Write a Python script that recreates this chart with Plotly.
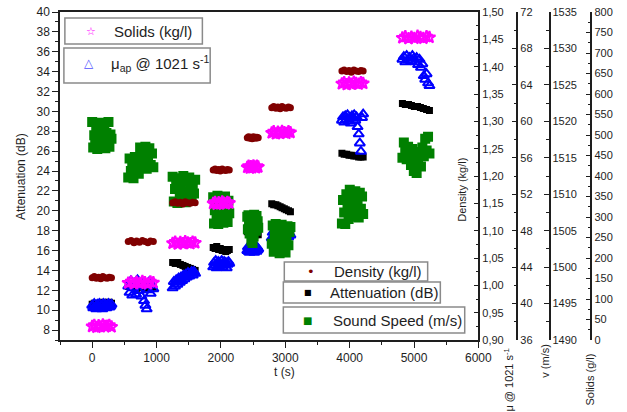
import plotly.graph_objects as go

# Eight measurement runs; slow channels sampled at ten instants per run (s)
time_s = [
    0, 33, 66, 100, 133, 166, 200, 233, 266, 300,
    560, 605, 650, 690, 735, 780, 820, 865, 905, 950,
    1250, 1290, 1330, 1370, 1410, 1445, 1485, 1525, 1560, 1600,
    1880, 1910, 1935, 1965, 1990, 2020, 2045, 2075, 2100, 2130,
    2410, 2430, 2450, 2465, 2485, 2505, 2525, 2545, 2560, 2580,
    2790, 2820, 2855, 2885, 2920, 2950, 2985, 3015, 3050, 3080,
    3880, 3915, 3955, 3990, 4025, 4065, 4100, 4140, 4175, 4210,
    4820, 4865, 4915, 4960, 5005, 5055, 5100, 5145, 5195, 5240,
]

# Fast channels (sound speed, viscosity) sampled at twenty instants per run (s)
fast_time_s = [
    0, 16, 32, 47, 63, 79, 95, 111, 126, 142, 158, 174, 189, 205, 221, 237, 253, 268, 284, 300,
    560, 581, 601, 622, 642, 663, 683, 704, 724, 745, 765, 786, 806, 827, 847, 868, 888, 909, 929, 950,
    1250, 1268, 1287, 1305, 1324, 1342, 1361, 1379, 1397, 1416, 1434, 1453, 1471, 1489, 1508, 1526, 1545, 1563, 1582, 1600,
    1880, 1893, 1906, 1919, 1933, 1946, 1959, 1972, 1985, 1998, 2012, 2025, 2038, 2051, 2064, 2077, 2091, 2104, 2117, 2130,
    2410, 2419, 2428, 2437, 2446, 2455, 2464, 2473, 2482, 2491, 2499, 2508, 2517, 2526, 2535, 2544, 2553, 2562, 2571, 2580,
    2790, 2805, 2821, 2836, 2851, 2866, 2882, 2897, 2912, 2927, 2943, 2958, 2973, 2988, 3004, 3019, 3034, 3049, 3065, 3080,
    3880, 3897, 3915, 3932, 3949, 3967, 3984, 4002, 4019, 4036, 4054, 4071, 4088, 4106, 4123, 4141, 4158, 4175, 4193, 4210,
    4820, 4842, 4864, 4886, 4908, 4931, 4953, 4975, 4997, 5019, 5041, 5063, 5085, 5108, 5130, 5152, 5174, 5196, 5218, 5240,
]

attenuation_db = [
    10.6, 10.7, 10.5, 10.6, 10.7, 10.8, 10.6, 10.7, 10.8, 10.7,
    12.4, 12.3, 12.4, 12.2, 12.3, 12.4, 12.2, 12.3, 12.2, 12.3,
    14.8, 14.7, 14.8, 14.6, 14.5, 14.4, 14.3, 14.2, 14.1, 14.0,
    16.3, 16.2, 16.4, 16.1, 16.2, 16.0, 16.1, 15.9, 16.0, 16.1,
    17.9, 17.8, 17.9, 17.7, 17.8, 17.8, 17.7, 17.6, 17.7, 17.6,
    20.7, 20.6, 20.6, 20.5, 20.4, 20.3, 20.2, 20.1, 20.0, 19.9,
    25.8, 25.7, 25.7, 25.6, 25.6, 25.5, 25.5, 25.4, 25.4, 25.4,
    30.8, 30.7, 30.7, 30.6, 30.5, 30.5, 30.4, 30.3, 30.2, 30.1,
]

density_kgl = [
    1.014, 1.016, 1.013, 1.015, 1.012, 1.016, 1.014, 1.013, 1.015, 1.014,
    1.080, 1.082, 1.078, 1.081, 1.079, 1.082, 1.080, 1.078, 1.081, 1.080,
    1.151, 1.153, 1.150, 1.152, 1.149, 1.153, 1.151, 1.150, 1.152, 1.151,
    1.211, 1.213, 1.210, 1.212, 1.209, 1.213, 1.211, 1.210, 1.212, 1.211,
    1.270, 1.272, 1.269, 1.271, 1.268, 1.272, 1.270, 1.269, 1.271, 1.270,
    1.325, 1.327, 1.324, 1.326, 1.323, 1.327, 1.325, 1.324, 1.326, 1.325,
    1.392, 1.394, 1.391, 1.393, 1.390, 1.394, 1.392, 1.391, 1.393, 1.392,
    None, None, None, None, None, None, None, None, None, None,
]

solids_gl = [
    33, 36, 31, 35, 32, 37, 33, 34, 36, 32,
    139, 142, 137, 141, 138, 143, 140, 137, 142, 140,
    236, 239, 234, 238, 235, 240, 237, 235, 239, 237,
    333, 336, 331, 335, 332, 337, 334, 332, 336, 334,
    421, 424, 419, 423, 420, 425, 422, 420, 424, 422,
    505, 508, 503, 507, 504, 509, 506, 504, 508, 506,
    625, 628, 623, 627, 624, 629, 626, 624, 628, 626,
    737, 740, 735, 739, 736, 741, 738, 736, 740, 738,
]

mu_ap = [
    39.8, 39.5, 40.0, 39.6, 39.4, 39.9, 39.7, 40.0, 39.5, 39.8, 39.4, 40.0, 39.6, 39.9, 39.5, 39.8, 40.0, 39.6, 39.7, 39.9,
    41.9, 41.2, 42.5, 40.9, 41.7, 42.2, 41.0, 42.6, 41.4, 42.1, 40.8, 42.3, 40.3, 39.8, 39.4, 41.5, 42.4, 41.1, 42.0, 41.6,
    41.7, 42.4, 41.9, 42.6, 42.1, 42.8, 42.3, 42.9, 42.5, 43.1, 42.7, 43.2, 42.9, 43.4, 43.0, 43.3, 43.5, 43.1, 43.5, 43.3,
    44.0, 44.5, 44.2, 44.7, 43.9, 44.4, 44.6, 44.1, 44.5, 44.3, 44.7, 44.0, 44.4, 44.6, 44.2, 44.5, 43.9, 44.3, 44.6, 44.4,
    45.8, 46.2, 45.7, 46.0, 45.6, 46.3, 45.9, 46.1, 45.7, 46.2, 45.8, 46.0, 45.6, 46.3, 45.9, 46.1, 45.7, 46.2, 45.9, 46.0,
    47.2, 47.8, 47.4, 48.0, 47.1, 47.6, 47.9, 47.3, 47.7, 47.0, 47.5, 47.9, 47.2, 47.8, 47.4, 47.6, 48.0, 47.3, 47.7, 47.5,
    60.1, 60.5, 59.9, 60.6, 60.2, 60.7, 60.0, 60.4, 59.8, 60.6, 60.3, 60.7, 60.1, 60.5, 59.4, 58.6, 57.6, 56.7, 60.4, 60.8,
    66.8, 67.1, 66.5, 67.2, 66.7, 67.0, 66.6, 67.2, 66.9, 66.5, 67.0, 66.2, 66.8, 65.9, 66.3, 65.0, 64.6, 65.2, 64.2, 63.9,
]

sound_speed_ms = [
    1519.9, 1516.4, 1518.1, 1517.2, 1519.3, 1516.2, 1518.6, 1517.5, 1519.8, 1516.6,
    1518.0, 1517.0, 1519.6, 1516.3, 1518.4, 1517.3, 1519.9, 1516.5, 1518.2, 1517.6,
    1512.3, 1514.9, 1513.2, 1514.2, 1512.2, 1515.1, 1513.5, 1514.5, 1512.8, 1516.4,
    1513.6, 1515.5, 1514.2, 1516.5, 1513.5, 1515.0, 1516.3, 1514.0, 1515.6, 1513.7,
    1512.4, 1509.0, 1510.7, 1511.6, 1508.8, 1512.2, 1509.9, 1511.0, 1509.2, 1512.5,
    1510.4, 1508.9, 1511.8, 1509.6, 1512.3, 1510.9, 1509.1, 1511.4, 1510.1, 1512.0,
    1509.6, 1506.0, 1507.8, 1508.7, 1506.9, 1509.8, 1505.9, 1507.3, 1508.9, 1506.4,
    1509.4, 1507.6, 1506.1, 1508.4, 1509.7, 1506.8, 1508.0, 1506.2, 1509.1, 1507.4,
    1506.9, 1505.2, 1507.1, 1506.0, 1504.6, 1506.8, 1505.5, 1503.6, 1504.8, 1503.3,
    1506.4, 1504.2, 1507.2, 1505.8, 1506.6, 1505.0, 1507.0, 1505.9, 1506.3, 1505.4,
    1503.2, 1505.7, 1502.1, 1504.4, 1505.9, 1502.8, 1503.9, 1505.1, 1501.9, 1504.6,
    1505.8, 1502.5, 1503.5, 1505.3, 1502.0, 1504.2, 1505.6, 1503.0, 1504.8, 1505.5,
    1506.0, 1509.2, 1507.5, 1505.9, 1510.0, 1508.3, 1506.6, 1510.6, 1507.2, 1509.5,
    1506.9, 1508.6, 1510.4, 1507.6, 1509.0, 1506.8, 1510.2, 1508.0, 1509.7, 1507.3,
    1515.0, 1517.1, 1515.8, 1514.8, 1516.5, 1515.3, 1514.0, 1516.2, 1513.2, 1515.8,
    1512.9, 1514.6, 1515.5, 1513.8, 1516.4, 1515.2, 1517.6, 1516.0, 1517.9, 1515.6,
]

# ---- page geometry (pixels) ----
W, H = 627, 412
ML, MR, MT, MB = 60, 2, 12, 72
PW, PH = W - ML - MR, H - MT - MB


def px(x):
    return (x - ML) / PW


def py(y):
    return (MT + PH - y) / PH


FONT = "Arial, 'Liberation Sans', Helvetica, sans-serif"
AX = "#1e1e1e"
C_ATT, C_MU, C_V, C_RHO, C_SOL = "#000000", "#0000ff", "#008000", "#800000", "#ff00ff"

fig = go.Figure()
# drawn bottom to top: attenuation, viscosity, sound speed, density, solids
fig.add_trace(go.Scatter(x=time_s, y=attenuation_db, mode="markers", name="Attenuation (dB)",
                         marker=dict(symbol="square", size=7, color=C_ATT), yaxis="y"))
fig.add_trace(go.Scatter(x=fast_time_s, y=mu_ap, mode="markers", name="μap @ 1021 s-1",
                         marker=dict(symbol="triangle-up-open", size=9, color=C_MU,
                                     line=dict(width=2, color=C_MU)), yaxis="y2"))
fig.add_trace(go.Scatter(x=fast_time_s, y=sound_speed_ms, mode="markers", name="Sound Speed (m/s)",
                         marker=dict(symbol="square", size=10, color=C_V), yaxis="y3"))
fig.add_trace(go.Scatter(x=time_s, y=density_kgl, mode="markers", name="Density (kg/l)",
                         marker=dict(symbol="circle", size=7, color=C_RHO), yaxis="y4"))
fig.add_trace(go.Scatter(x=time_s, y=solids_gl, mode="markers", name="Solids (kg/l)",
                         marker=dict(symbol="star-open", size=9, color=C_SOL,
                                     line=dict(width=2, color=C_SOL)), yaxis="y5"))


def right_axis(rng, dtick, minor, **kw):
    d = dict(range=rng, tickmode="linear", tick0=rng[0], dtick=dtick,
             showgrid=False, zeroline=False, showline=True, linecolor=AX, linewidth=1.5,
             ticks="inside", ticklen=5, tickwidth=1.2, tickcolor=AX,
             minor=dict(tick0=rng[0], dtick=minor, ticks="inside", ticklen=3,
                        tickwidth=1.2, tickcolor=AX, showgrid=False),
             tickfont=dict(size=11, color=AX, family=FONT),
             overlaying="y", side="right")
    d.update(kw)
    return d


fig.update_layout(
    width=W, height=H,
    margin=dict(l=ML, r=MR, t=MT, b=MB, pad=0),
    paper_bgcolor="white", plot_bgcolor="white",
    separators=",.",
    showlegend=False,
    font=dict(family=FONT, color=AX),
    xaxis=dict(domain=[0, px(489)], range=[-500, 6000], tickmode="linear", tick0=0, dtick=1000,
               showgrid=False, zeroline=False, showline=True, mirror=True,
               linecolor=AX, linewidth=1.5, ticks="outside", ticklen=6, tickwidth=1.2, tickcolor=AX,
               minor=dict(tick0=0, dtick=500, ticks="outside", ticklen=3, tickwidth=1.2,
                          tickcolor=AX, showgrid=False),
               tickfont=dict(size=12, color=AX, family=FONT), anchor="y"),
    yaxis=dict(range=[7, 40], tickmode="linear", tick0=8, dtick=2,
               showgrid=False, zeroline=False, showline=True, linecolor=AX, linewidth=1.5,
               ticks="outside", ticklen=6, tickwidth=1.2, tickcolor=AX,
               minor=dict(tick0=7, dtick=1, ticks="outside", ticklen=3, tickwidth=1.2,
                          tickcolor=AX, showgrid=False),
               tickfont=dict(size=12, color=AX, family=FONT), anchor="x"),
    yaxis2=right_axis([36, 72], 4, 2, anchor="free", position=px(529)),
    yaxis3=right_axis([1490, 1535], 5, 2.5, anchor="free", position=px(562)),
    yaxis4=right_axis([0.90, 1.50], 0.05, 0.025, anchor="x", tickformat=".2f"),
    yaxis5=right_axis([0, 800], 50, 25, anchor="free", position=px(605)),
)

# ---- legend boxes ----
BOX = "#8a8a8a"
boxes = [(65, 18, 206, 44), (64, 48, 214, 83), (290, 262, 437, 281),
         (289, 282, 450, 303), (289, 307, 475, 333)]
for x0, y0, x1, y1 in boxes:
    fig.add_shape(type="rect", xref="paper", yref="paper",
                  x0=px(x0), x1=px(x1), y0=py(y1), y1=py(y0),
                  line=dict(color=BOX, width=1.5), fillcolor="white", layer="above")

legend_items = [
    ("☆", C_SOL, 11, 92, 31, "Solids (kg/l)", 113),
    ("△", "#5050ff", 12, 90, 63, "μ<sub>ap</sub> @ 1021 s<sup>-1</sup>", 110),
    ("•", C_RHO, 13, 317, 271, "Density (kg/l)", 339),
    ("■", C_ATT, 8, 314, 292.5, "Attenuation (dB)", 335),
    ("■", C_V, 10, 314, 320, "Sound Speed (m/s)", 338),
]
for sym, col, sz, sx, sy, label, tx in legend_items:
    fig.add_annotation(x=px(sx), y=py(sy), xref="paper", yref="paper", text=sym,
                       showarrow=False, xanchor="center", yanchor="middle",
                       font=dict(family="DejaVu Sans", size=sz, color=col))
    fig.add_annotation(x=px(tx), y=py(sy), xref="paper", yref="paper", text=label,
                       showarrow=False, xanchor="left", yanchor="middle",
                       font=dict(family=FONT, size=15, color=AX))

# ---- axis titles ----
titles = [
    ("Attenuation (dB)", 20, 176, -90, 12),
    ("Density (kg/l)", 472, 190, -90, 11),
    ("μ @ 1021 s<sup>-1</sup>", 520, 380, -90, 11),
    ("v (m/s)", 557, 361, -90, 11),
    ("Solids (g/l)", 603, 380, -90, 11),
    ("t (s)", 290, 372, 0, 12),
]
for text, tx, ty, ang, sz in titles:
    fig.add_annotation(x=px(tx), y=py(ty), xref="paper", yref="paper", text=text,
                       showarrow=False, xanchor="center", yanchor="middle", textangle=ang,
                       font=dict(family=FONT, size=sz, color=AX))

fig.write_html("out.html")
